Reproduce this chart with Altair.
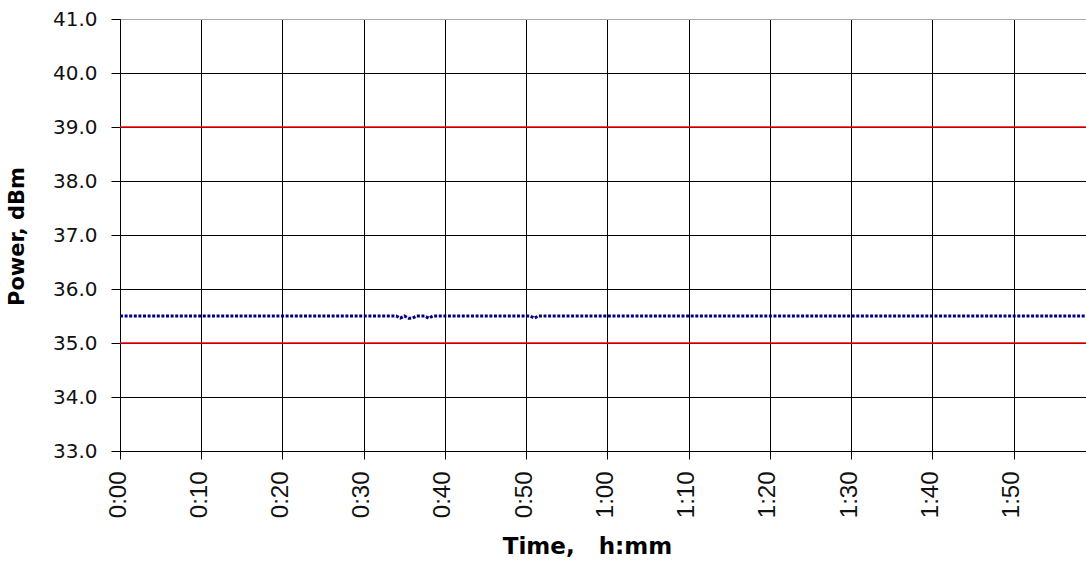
import altair as alt
import pandas as pd

# Measured output power, sampled every 30 s (minutes from start)
minutes = [i * 0.5 for i in range(241)]
power_dbm = (
    [35.50] * 69
    + [35.46]
    + [35.50]
    + [35.46, 35.46]
    + [35.50] * 3
    + [35.46]
    + [35.50] * 25
    + [35.46]
    + [35.50] * 138
)

# Upper and lower power limits
limits_dbm = [39.0, 35.0]

# Axis ticks
x_ticks = [0, 10, 20, 30, 40, 50, 60, 70, 80, 90, 100, 110]
y_ticks = [33, 34, 35, 36, 37, 38, 39, 40, 41]

series = pd.DataFrame({"t": minutes, "p": power_dbm})
limits = pd.DataFrame({"p": limits_dbm})

x_scale = alt.Scale(domain=[0, 118.9], nice=False, zero=False)
y_scale = alt.Scale(domain=[33, 41], nice=False, zero=False)

x_axis = alt.Axis(
    title="Time,\u00a0\u00a0\u00a0h:mm",
    values=x_ticks,
    labelExpr="floor(datum.value / 60) + ':' + (datum.value % 60 < 10 ? '0' : '') + (datum.value % 60)",
    labelAngle=270,
    labelFont="Liberation Sans",
    labelFontSize=24,
    labelColor="#111111",
    labelPadding=12,
    labelOffset=-2,
    tickSize=8,
    tickColor="black",
    domainColor="black",
    gridColor="black",
    gridWidth=1,
    titleFont="DejaVu Sans",
    titleFontSize=23,
    titleFontWeight="bold",
    titleColor="black",
    titleX=467,
    titleY=102,
    titleBaseline="alphabetic",
)

y_axis = alt.Axis(
    title="Power, dBm",
    values=y_ticks,
    format=".1f",
    labelFont="DejaVu Sans",
    labelFontSize=20,
    labelColor="#111111",
    labelPadding=14,
    tickSize=9,
    tickColor="black",
    domainColor="black",
    gridColor={"condition": {"test": "datum.value == 41", "value": "#a8a8a8"}, "value": "black"},
    gridWidth=1,
    titleFont="DejaVu Sans",
    titleFontSize=21,
    titleFontWeight="bold",
    titleColor="black",
    titleX=-97,
    titleY=217,
    titleBaseline="alphabetic",
)

power_line = (
    alt.Chart(series)
    .mark_line(color="#000080", strokeWidth=3, strokeDash=[3, 1.6], strokeCap="butt", clip=True)
    .encode(
        x=alt.X("t:Q", scale=x_scale, axis=x_axis),
        y=alt.Y("p:Q", scale=y_scale, axis=y_axis),
    )
)

limit_rules = (
    alt.Chart(limits)
    .mark_rule(color="#ff0000", strokeWidth=1.3)
    .encode(y=alt.Y("p:Q", scale=y_scale))
)

chart = (
    alt.layer(limit_rules, power_line)
    .properties(
        width=966,
        height=432,
        autosize=alt.AutoSizeParams(type="none"),
        padding={"left": 120, "top": 19, "right": 0, "bottom": 112},
        background="white",
    )
    .configure_view(strokeWidth=0)
)

chart.save("out.html", embed_options={"renderer": "svg", "actions": False})
